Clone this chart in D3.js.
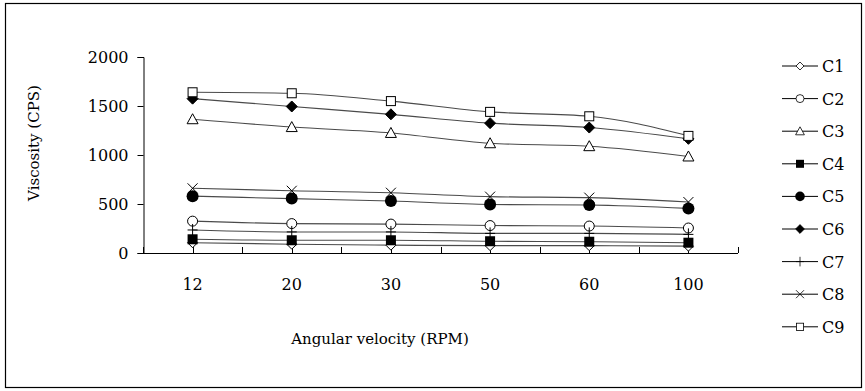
<!DOCTYPE html>
<html>
<head>
<meta charset="utf-8">
<script src="https://cdn.jsdelivr.net/npm/d3@7"></script>
<style>
  body { margin: 0; background: #fff; }
  svg text { font-family: "DejaVu Serif", serif; fill: #000; }
</style>
</head>
<body>
<div id="container"></div>
<script>
// chart data
const categories = ['12', '20', '30', '50', '60', '100'];
const seriesNames = ['C1', 'C2', 'C3', 'C4', 'C5', 'C6', 'C7', 'C8', 'C9'];
const c1 = [105, 90, 80, 75, 75, 70];
const c2 = [325, 300, 295, 280, 275, 255];
const c3 = [1365, 1285, 1225, 1120, 1090, 985];
const c4 = [140, 130, 130, 120, 115, 105];
const c5 = [580, 555, 530, 495, 490, 455];
const c6 = [1575, 1495, 1415, 1325, 1280, 1165];
const c7 = [235, 215, 215, 200, 200, 190];
const c8 = [660, 635, 615, 575, 565, 520];
const c9 = [1640, 1630, 1550, 1440, 1395, 1195];
const yTicks = [0, 500, 1000, 1500, 2000];

const allValues = [c1, c2, c3, c4, c5, c6, c7, c8, c9];
const markers = ['diamondOpen', 'circleOpen', 'triangleOpen', 'squareFill', 'circleFill',
                 'diamondFill', 'plus', 'cross', 'squareOpen'];

const width = 865, height = 391;
const svg = d3.select('#container').append('svg')
    .attr('width', width).attr('height', height);

// outer frame
svg.append('rect')
    .attr('x', 5.5).attr('y', 3.5)
    .attr('width', 856).attr('height', 384)
    .attr('fill', 'none').attr('stroke', '#000').attr('stroke-width', 1.2);

const x = d3.scaleBand().domain(categories).range([143, 738]);
const y = d3.scaleLinear().domain([0, 2000]).range([253, 57]);

// y axis
const yAxis = svg.append('g')
    .attr('transform', 'translate(143.5,0)')
    .call(d3.axisLeft(y).tickValues(yTicks).tickSize(6).tickPadding(9).tickFormat(d3.format('d')));
yAxis.select('.domain').attr('stroke', '#000');
yAxis.selectAll('text').style('font-size', '16px');

// x axis: ticks at band edges and centres, pointing inwards
const xEdges = d3.range(categories.length * 2 + 1).map(i => 143 + i * x.bandwidth() / 2);
svg.append('line')
    .attr('x1', 143).attr('x2', 738).attr('y1', 253.5).attr('y2', 253.5)
    .attr('stroke', '#000');
svg.append('g').selectAll('line')
    .data(xEdges)
    .join('line')
    .attr('x1', d => Math.round(d) + 0.5).attr('x2', d => Math.round(d) + 0.5)
    .attr('y1', 253).attr('y2', 247)
    .attr('stroke', '#000');
svg.append('g').selectAll('text')
    .data(categories)
    .join('text')
    .attr('x', d => x(d) + x.bandwidth() / 2)
    .attr('y', 290)
    .attr('text-anchor', 'middle')
    .style('font-size', '16px')
    .text(d => d);

// axis titles
svg.append('text')
    .attr('x', 380).attr('y', 344)
    .attr('text-anchor', 'middle')
    .style('font-size', '15px')
    .text('Angular velocity (RPM)');
svg.append('text')
    .attr('transform', 'translate(39,143) rotate(-90)')
    .attr('text-anchor', 'middle')
    .style('font-size', '15px')
    .text('Viscosity (CPS)');

function drawMarker(g, type) {
    const s = '#000';
    switch (type) {
        case 'diamondOpen':
            g.append('path').attr('d', 'M0,-5L5,0L0,5L-5,0Z').attr('fill', '#fff').attr('stroke', s);
            break;
        case 'diamondFill':
            g.append('path').attr('d', 'M0,-5.5L5.5,0L0,5.5L-5.5,0Z').attr('fill', s).attr('stroke', s);
            break;
        case 'circleOpen':
            g.append('circle').attr('r', 5).attr('fill', '#fff').attr('stroke', s);
            break;
        case 'circleFill':
            g.append('circle').attr('r', 6).attr('fill', s);
            break;
        case 'triangleOpen':
            g.append('path').attr('d', 'M0,-5.5L5.5,4.5L-5.5,4.5Z').attr('fill', '#fff').attr('stroke', s);
            break;
        case 'squareFill':
            g.append('rect').attr('x', -5).attr('y', -5).attr('width', 10).attr('height', 10).attr('fill', s);
            break;
        case 'squareOpen':
            g.append('rect').attr('x', -4.5).attr('y', -4.5).attr('width', 9).attr('height', 9).attr('fill', '#fff').attr('stroke', s);
            break;
        case 'plus':
            g.append('path').attr('d', 'M-5,0H5M0,-6V6').attr('stroke', s).attr('fill', 'none');
            break;
        case 'cross':
            g.append('path').attr('d', 'M-5,-5L5,5M5,-5L-5,5').attr('stroke', s).attr('fill', 'none');
            break;
    }
}

const line = d3.line()
    .x((d, i) => x(categories[i]) + x.bandwidth() / 2)
    .y(d => y(d))
    .curve(d3.curveMonotoneX);

// series lines first, then markers on top
allValues.forEach(vals => {
    svg.append('path')
        .datum(vals)
        .attr('d', line)
        .attr('fill', 'none')
        .attr('stroke', '#4a4a4a')
        .attr('stroke-width', 1.1);
});
allValues.forEach((vals, si) => {
    vals.forEach((v, i) => {
        const g = svg.append('g')
            .attr('transform', `translate(${x(categories[i]) + x.bandwidth() / 2},${y(v)})`);
        drawMarker(g, markers[si]);
    });
});

// legend
const legend = svg.append('g');
seriesNames.forEach((name, i) => {
    const ly = 66 + i * 32.6;
    const g = legend.append('g').attr('transform', `translate(0,${ly})`);
    g.append('line').attr('x1', 782).attr('x2', 818).attr('y1', 0).attr('y2', 0).attr('stroke', '#000');
    const m = g.append('g').attr('transform', 'translate(800,0) scale(0.8)');
    drawMarker(m, markers[i]);
    g.append('text').attr('x', 822).attr('y', 6).style('font-size', '16px').text(name);
});
</script>
</body>
</html>
